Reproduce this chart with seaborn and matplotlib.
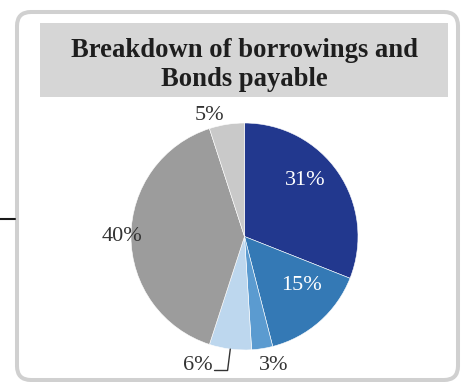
import numpy as np
import matplotlib
matplotlib.use("Agg")
import matplotlib.pyplot as plt
import matplotlib.transforms as mtransforms
from matplotlib.patches import FancyBboxPatch, Rectangle
from matplotlib.lines import Line2D
import seaborn as sns

# ---- data ----
title_lines = ["Breakdown of borrowings and", "Bonds payable"]
shares = [31, 15, 3, 6, 40, 5]
labels = ["31%", "15%", "3%", "6%", "40%", "5%"]
slice_colors = ["#22388e", "#3479b5", "#5b9bd0", "#bdd7ee", "#9c9c9c", "#c9c9c9"]

# label layout: (radius, angle shift in degrees, inside?)
label_layout = [(0.73, 8.4, True), (0.66, 7.6, True), (1.165, 3.7, False),
                (1.21, -12.8, False), (1.08, 0.0, False), (1.113, 6.9, False)]

sns.set_style("white")
plt.rcParams["font.family"] = ["Liberation Serif", "DejaVu Serif"]

W, H = 461, 382
fig = plt.figure(figsize=(W / 100, H / 100), dpi=100)
fig.patch.set_facecolor("white")
px = mtransforms.IdentityTransform()

# rounded outer border
border = FancyBboxPatch((17, 2), 441, 368, boxstyle="round,pad=0,rounding_size=14",
                        transform=px, facecolor="none", edgecolor="#d0d0d0",
                        linewidth=2.9, zorder=0)
fig.add_artist(border)

# small connector line on the left
fig.add_artist(Line2D([0, 15], [163, 163], transform=px, color="#1a1a1a", linewidth=1.5))

# title box
fig.add_artist(Rectangle((40, H - 97), 408, 74, transform=px, facecolor="#d6d6d6",
                         edgecolor="none", zorder=1))
fig.text(244 / W, 1 - 57 / H, title_lines[0], ha="center", va="baseline",
         fontsize=19.2, fontweight="bold", color="#1e1e1e", zorder=2)
fig.text(244 / W, 1 - 86 / H, title_lines[1], ha="center", va="baseline",
         fontsize=19.2, fontweight="bold", color="#1e1e1e", zorder=2)

# pie axes (center 244.5, 236.5 px; radius 113.5 px)
cx, cy, R = 244.5, 236.5, 113.5
ax = fig.add_axes([(cx - R) / W, (H - cy - R) / H, 2 * R / W, 2 * R / H])
wedges, _ = ax.pie(shares, colors=slice_colors, startangle=90, counterclock=False,
                   radius=1, wedgeprops=dict(edgecolor="white", linewidth=0.4))
ax.set_xlim(-1, 1)
ax.set_ylim(-1, 1)
ax.set_aspect("auto")
ax.axis("off")

for w, lab, (r, shift, inside) in zip(wedges, labels, label_layout):
    mid = 0.5 * (w.theta1 + w.theta2)
    ang = np.deg2rad(mid + shift)
    ax.text(r * np.cos(ang), r * np.sin(ang), lab, ha="center", va="center",
            fontsize=16, color="white" if inside else "#333333", clip_on=False)
    if lab == "6%":
        m = np.deg2rad(mid)
        x0, y0 = np.cos(m), np.sin(m)
        x1, y1 = 1.19 * np.cos(m), 1.19 * np.sin(m)
        ax.plot([x0, x1, x1 - 0.115], [y0, y1, y1], color="#333333", linewidth=1.0,
                clip_on=False)

fig.savefig("out.png", dpi=100)
